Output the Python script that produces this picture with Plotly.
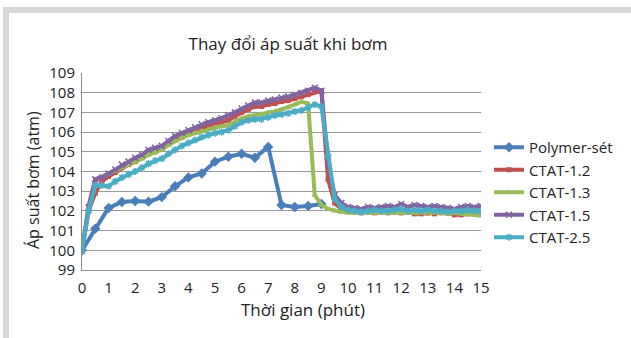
import plotly.graph_objects as go

# ---------------- data ----------------
t_polymer = [0, 0.5, 1, 1.5, 2, 2.5, 3, 3.5, 4, 4.5, 5, 5.5, 6, 6.5, 7, 7.5, 8, 8.5, 9]
polymer_set = [100, 101.1, 102.15, 102.45, 102.5, 102.47, 102.7, 103.25, 103.7, 103.9,
               104.5, 104.75, 104.9, 104.7, 105.25, 102.3, 102.2, 102.25, 102.35]

t_ctat = [i * 0.25 for i in range(61)]

ctat_12 = [100, 102.0, 102.9, 103.5, 103.75, 103.95, 104.2, 104.35, 104.5, 104.7,
           104.9, 105.0, 105.15, 105.4, 105.6, 105.75, 105.9, 106.0, 106.15, 106.3,
           106.45, 106.5, 106.6, 106.8, 107.0, 107.15, 107.3, 107.3, 107.4, 107.45,
           107.55, 107.6, 107.7, 107.8, 107.9, 108.05, 108.1, 103.6, 102.4, 102.1,
           102.0, 101.95, 101.9, 101.95, 101.9, 101.95, 101.9, 101.95, 101.9, 101.95,
           101.85, 101.85, 101.9, 101.85, 101.9, 101.9, 101.8, 101.8, 101.85, 101.85,
           101.9]

ctat_13 = [100, 102.3, 103.6, 103.75, 103.85, 104.0, 104.2, 104.35, 104.5, 104.65,
           104.85, 104.95, 105.1, 105.35, 105.55, 105.7, 105.85, 105.95, 106.05, 106.15,
           106.25, 106.3, 106.35, 106.55, 106.7, 106.8, 106.85, 106.9, 107.0, 107.05,
           107.15, 107.25, 107.4, 107.55, 107.45, 102.8, 102.3, 102.1, 102.0, 101.95,
           101.9, 101.9, 101.95, 101.9, 101.9, 101.95, 101.9, 101.9, 101.95, 101.9,
           101.9, 101.95, 101.9, 101.9, 101.9, 101.85, 101.9, 101.85, 101.85, 101.8,
           101.75]

ctat_15 = [100, 102.2, 103.6, 103.7, 103.9, 104.1, 104.35, 104.5, 104.7, 104.85,
           105.1, 105.2, 105.3, 105.55, 105.8, 105.95, 106.1, 106.25, 106.4, 106.5,
           106.6, 106.7, 106.85, 107.0, 107.2, 107.35, 107.5, 107.5, 107.6, 107.65,
           107.75, 107.8, 107.9, 108.0, 108.1, 108.25, 108.1, 104.5, 102.8, 102.4,
           102.2, 102.15, 102.1, 102.2, 102.15, 102.2, 102.25, 102.2, 102.35, 102.2,
           102.3, 102.25, 102.2, 102.25, 102.2, 102.15, 102.1, 102.2, 102.25, 102.2,
           102.25]

ctat_25 = [100, 102.0, 103.3, 103.3, 103.25, 103.5, 103.7, 103.85, 104.0, 104.2,
           104.4, 104.55, 104.65, 104.9, 105.1, 105.3, 105.45, 105.6, 105.75, 105.85,
           105.95, 106.0, 106.1, 106.3, 106.5, 106.6, 106.65, 106.65, 106.75, 106.85,
           106.9, 106.95, 107.05, 107.1, 107.25, 107.4, 107.3, 104.8, 102.6, 102.2,
           102.05, 102.0, 101.95, 102.0, 102.05, 102.0, 102.0, 102.05, 102.1, 102.0,
           102.05, 102.0, 102.05, 102.0, 102.0, 101.95, 102.0, 102.0, 102.05, 102.0,
           102.0]

x_ticks = list(range(0, 16))
y_ticks = list(range(99, 110))

FONT = "Open Sans"
TXT = "#222222"

fig = go.Figure()

series = [
    ("Polymer-sét", t_polymer, polymer_set, "#4A7EBB", dict(symbol="diamond", size=8, line=dict(width=0))),
    ("CTAT-1.2", t_ctat, ctat_12, "#C0504D", dict(symbol="square", size=5, line=dict(width=0))),
    ("CTAT-1.3", t_ctat, ctat_13, "#9BBB59", dict(symbol="triangle-up", size=6, line=dict(width=0))),
    ("CTAT-1.5", t_ctat, ctat_15, "#8064A2", dict(symbol="x-thin", size=6, line=dict(width=1.5, color="#8064A2"))),
    ("CTAT-2.5", t_ctat, ctat_25, "#4BACC6", dict(symbol="asterisk", size=6, line=dict(width=1.5, color="#4BACC6"))),
]

for name, xs, ys, color, marker in series:
    fig.add_trace(go.Scatter(
        x=xs, y=ys, name=name, mode="lines+markers",
        line=dict(color=color, width=4),
        marker=dict(color=color, **marker),
    ))

# plot area in px: left 82, right 481, top 73, bottom 270
L, R, T, B = 82, 481, 73, 270
W, H = 631, 338
pw, ph = R - L, B - T

def px_x(p):
    return (p - L) / pw

def px_y(p):
    return (B - p) / ph

shapes = [
    dict(type="rect", xref="paper", yref="paper", x0=px_x(3), x1=px_x(9), y0=px_y(7), y1=px_y(H + 5),
         fillcolor="#D6D6D6", line=dict(width=0), layer="below"),
    dict(type="rect", xref="paper", yref="paper", x0=px_x(3), x1=px_x(W + 5), y0=px_y(13), y1=px_y(7),
         fillcolor="#D6D6D6", line=dict(width=0), layer="below"),
]

annotations = [
    dict(text="Thời gian (phút)", xref="paper", yref="paper", x=px_x(303), y=px_y(309),
         xanchor="center", yanchor="middle", showarrow=False,
         font=dict(size=17, family=FONT, color=TXT)),
    dict(text="Áp suất bơm (atm)", xref="paper", yref="paper", x=px_x(33), y=px_y(180),
         xanchor="center", yanchor="middle", showarrow=False, textangle=-90,
         font=dict(size=16, family=FONT, color=TXT)),
]

fig.update_layout(
    width=W, height=H,
    margin=dict(l=L, r=W - R, t=T, b=H - B),
    paper_bgcolor="white", plot_bgcolor="white",
    font=dict(family=FONT, size=16, color=TXT),
    title=dict(text="Thay đổi áp suất khi bơm", x=288 / W, xanchor="center",
               y=1 - 44 / H, yanchor="middle", font=dict(size=17, family=FONT, color=TXT)),
    showlegend=True,
    legend=dict(x=px_x(489), xanchor="left", y=px_y(131), yanchor="top",
                font=dict(size=15, family=FONT, color=TXT),
                bgcolor="rgba(0,0,0,0)", tracegroupgap=0, itemwidth=30),
    shapes=shapes,
    annotations=annotations,
    xaxis=dict(range=[0, 15], tickmode="array", tickvals=x_ticks, ticktext=[str(v) for v in x_ticks],
               showgrid=False, zeroline=False, showline=True, linecolor="#8C8C8C", linewidth=1,
               ticks="", ticklen=0, ticklabelstandoff=4,
               tickfont=dict(size=15, family=FONT, color=TXT)),
    yaxis=dict(range=[99, 109], tickmode="array", tickvals=y_ticks, ticktext=[str(v) for v in y_ticks],
               showgrid=True, gridcolor="#999999", gridwidth=1, zeroline=False,
               showline=True, linecolor="#8C8C8C", linewidth=1, ticks="", ticklabelstandoff=3,
               tickfont=dict(size=15, family=FONT, color=TXT)),
)

fig.write_html("out.html")
